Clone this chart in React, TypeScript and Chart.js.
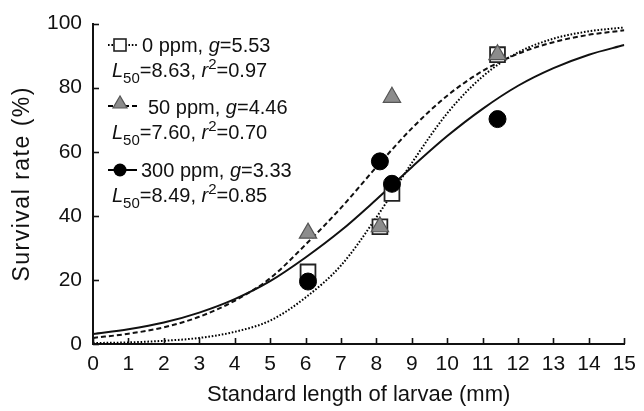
import React, { useEffect, useRef } from 'react';
import { Chart, registerables } from 'chart.js';

Chart.register(...registerables);

// ---- data ----
const curveX = [0, 1, 2, 3, 4, 5, 6, 7, 8, 9, 10, 11, 12, 13, 14, 15];
const fit0ppm = [0.3, 0.5, 1.0, 1.9, 3.8, 7.3, 14.5, 24.5, 39.5, 56.5, 72, 83.5, 91, 95.3, 97.6, 98.8];
const fit50ppm = [1.9, 3.2, 5.2, 8.5, 13.5, 20.5, 31, 42.5, 55.2, 67.3, 77.5, 85.2, 90.6, 94.2, 96.5, 97.9];
const fit300ppm = [3.1, 4.6, 6.7, 9.8, 14, 19.6, 27, 35.4, 45.1, 55.2, 64.9, 73.4, 80.6, 86.1, 90.3, 93.3];

const obsX = [6.07, 8.1, 8.44, 11.42];
const obs0ppm = [22.5, 36.6, 47, 90.3];
const obs50ppm = [34.6, 36.6, 77, 90.3];
const obs300ppm = [19.5, 57, 50, 70.2];

const xTicks = [0, 1, 2, 3, 4, 5, 6, 7, 8, 9, 10, 11, 12, 13, 14, 15];
const yTicks = [0, 20, 40, 60, 80, 100];

const xTitle = 'Standard length of larvae (mm)';
const yTitle = 'Survival rate (%)';

type Seg = { t: string; it?: boolean; sub?: boolean; sup?: boolean };
const legendLine1: Seg[][] = [
  [{ t: '0 ppm, ' }, { t: 'g', it: true }, { t: '=5.53' }],
  [{ t: '50 ppm, ' }, { t: 'g', it: true }, { t: '=4.46' }],
  [{ t: '300 ppm, ' }, { t: 'g', it: true }, { t: '=3.33' }],
];
const legendLine2: Seg[][] = [
  [{ t: 'L', it: true }, { t: '50', sub: true }, { t: '=8.63, ' }, { t: 'r', it: true }, { t: '2', sup: true }, { t: '=0.97' }],
  [{ t: 'L', it: true }, { t: '50', sub: true }, { t: '=7.60, ' }, { t: 'r', it: true }, { t: '2', sup: true }, { t: '=0.70' }],
  [{ t: 'L', it: true }, { t: '50', sub: true }, { t: '=8.49, ' }, { t: 'r', it: true }, { t: '2', sup: true }, { t: '=0.85' }],
];

const FONT = '"Liberation Sans", Arial, Helvetica, sans-serif';
const INK = '#111';

function drawRich(ctx: CanvasRenderingContext2D, x: number, y: number, segs: Seg[], size: number) {
  let cx = x;
  for (const s of segs) {
    const small = s.sub || s.sup;
    const fs = small ? Math.round(size * 0.76) : size;
    ctx.font = `${s.it ? 'italic ' : ''}${fs}px ${FONT}`;
    const dy = s.sub ? size * 0.3 : s.sup ? -size * 0.4 : 0;
    ctx.fillText(s.t, cx, y + dy);
    cx += ctx.measureText(s.t).width;
  }
}

const decorPlugin = {
  id: 'decor',
  afterDraw(chart: any) {
    const ctx: CanvasRenderingContext2D = chart.ctx;
    const xs = chart.scales.x;
    const ys = chart.scales.y;
    const area = chart.chartArea;
    ctx.save();
    // inward tick marks
    ctx.strokeStyle = INK;
    ctx.lineWidth = 1.6;
    ctx.setLineDash([]);
    for (const v of xTicks) {
      const px = Math.round(xs.getPixelForValue(v)) + 0.5;
      ctx.beginPath();
      ctx.moveTo(px, area.bottom);
      ctx.lineTo(px, area.bottom - 6);
      ctx.stroke();
    }
    for (const v of yTicks) {
      const py = Math.round(ys.getPixelForValue(v)) + 0.5;
      ctx.beginPath();
      ctx.moveTo(area.left, py);
      ctx.lineTo(area.left + 6, py);
      ctx.stroke();
    }
    // axis titles
    ctx.fillStyle = INK;
    ctx.textAlign = 'center';
    ctx.textBaseline = 'middle';
    ctx.font = `22px ${FONT}`;
    ctx.fillText(xTitle, (area.left + area.right) / 2, 395);
    ctx.save();
    ctx.translate(23, (area.top + area.bottom) / 2);
    ctx.rotate(-Math.PI / 2);
    ctx.font = `23px ${FONT}`;
    (ctx as any).letterSpacing = '1.5px';
    ctx.fillText(yTitle, 0, 0);
    ctx.restore();

    // legend
    ctx.textAlign = 'left';
    ctx.textBaseline = 'alphabetic';
    const base1 = [52, 114, 177];
    const base2 = [77, 139, 202];
    const x1 = [142, 148, 141];
    const sampleY = [45, 106, 170];
    const dashes = [[1.6, 1.8], [5, 3], []];
    const widths = [2, 2, 2];
    for (let i = 0; i < 3; i++) {
      ctx.strokeStyle = '#000';
      ctx.lineWidth = widths[i];
      ctx.setLineDash(dashes[i]);
      ctx.beginPath();
      ctx.moveTo(108, sampleY[i]);
      ctx.lineTo(137, sampleY[i]);
      ctx.stroke();
      ctx.setLineDash([]);
      const cx = 120;
      const cy = sampleY[i];
      if (i === 0) {
        ctx.fillStyle = '#fff';
        ctx.fillRect(cx - 6, cy - 6, 12, 12);
        ctx.lineWidth = 1.6;
        ctx.strokeStyle = '#222';
        ctx.strokeRect(cx - 6, cy - 6, 12, 12);
      } else if (i === 1) {
        ctx.beginPath();
        ctx.moveTo(cx, cy - 10);
        ctx.lineTo(cx - 7, cy + 2);
        ctx.lineTo(cx + 7, cy + 2);
        ctx.closePath();
        ctx.fillStyle = '#8c8c8c';
        ctx.fill();
        ctx.lineWidth = 1.2;
        ctx.strokeStyle = '#555';
        ctx.stroke();
      } else {
        ctx.beginPath();
        ctx.arc(cx, cy, 6.5, 0, Math.PI * 2);
        ctx.fillStyle = '#000';
        ctx.fill();
      }
      ctx.fillStyle = INK;
      drawRich(ctx, x1[i], base1[i], legendLine1[i], 20);
      drawRich(ctx, 112, base2[i], legendLine2[i], 20);
    }
    ctx.restore();
  },
};

const toPts = (xv: number[], yv: number[]) => xv.map((x, i) => ({ x, y: yv[i] }));

export default function App() {
  const ref = useRef<HTMLCanvasElement | null>(null);
  useEffect(() => {
    document.body.style.margin = '0';
    if (!ref.current) return;
    const chart = new Chart(ref.current, {
      type: 'scatter',
      data: {
        datasets: [
          {
            label: '0 ppm fit',
            data: toPts(curveX, fit0ppm),
            showLine: true,
            borderColor: '#000',
            borderWidth: 2,
            borderDash: [1.6, 1.8],
            pointRadius: 0,
            cubicInterpolationMode: 'monotone',
            order: 6,
          },
          {
            label: '50 ppm fit',
            data: toPts(curveX, fit50ppm),
            showLine: true,
            borderColor: '#111',
            borderWidth: 2,
            borderDash: [5, 3],
            pointRadius: 0,
            cubicInterpolationMode: 'monotone',
            order: 5,
          },
          {
            label: '300 ppm fit',
            data: toPts(curveX, fit300ppm),
            showLine: true,
            borderColor: '#111',
            borderWidth: 2,
            pointRadius: 0,
            cubicInterpolationMode: 'monotone',
            order: 4,
          },
          {
            label: '0 ppm',
            data: toPts(obsX, obs0ppm),
            pointStyle: 'rect',
            pointRadius: 10.5,
            backgroundColor: '#fff',
            borderColor: '#222',
            borderWidth: 1.8,
            order: 3,
          },
          {
            label: '50 ppm',
            data: toPts(obsX, obs50ppm),
            pointStyle: 'triangle',
            pointRadius: 10,
            backgroundColor: '#8c8c8c',
            borderColor: '#555',
            borderWidth: 1.2,
            order: 2,
          },
          {
            label: '300 ppm',
            data: toPts(obsX, obs300ppm),
            pointStyle: 'circle',
            pointRadius: 8.5,
            backgroundColor: '#000',
            borderColor: '#000',
            borderWidth: 1,
            order: 1,
          },
        ],
      },
      options: {
        responsive: false,
        animation: false,
        layout: { padding: { top: 20, right: 16, left: 0, bottom: 0 } },
        plugins: { legend: { display: false }, tooltip: { enabled: false } },
        scales: {
          x: {
            type: 'linear',
            min: 0,
            max: 15,
            ticks: { stepSize: 1, autoSkip: false, font: { size: 21, family: FONT }, color: INK, padding: 8, maxRotation: 0 },
            grid: { display: false, drawTicks: false },
            border: { display: true, color: INK, width: 2 },
            afterFit: (s: any) => {
              s.height = 67;
            },
          },
          y: {
            type: 'linear',
            min: 0,
            max: 100,
            ticks: { stepSize: 20, font: { size: 21, family: FONT }, color: INK, padding: 11 },
            grid: { display: false, drawTicks: false },
            border: { display: true, color: INK, width: 2 },
            afterFit: (s: any) => {
              s.width = 93;
            },
          },
        },
      },
      plugins: [decorPlugin],
    });
    return () => chart.destroy();
  }, []);
  return (
    <div style={{ position: 'relative', width: 644, height: 411, background: '#fff' }}>
      <canvas ref={ref} width={644} height={411} />
    </div>
  );
}
